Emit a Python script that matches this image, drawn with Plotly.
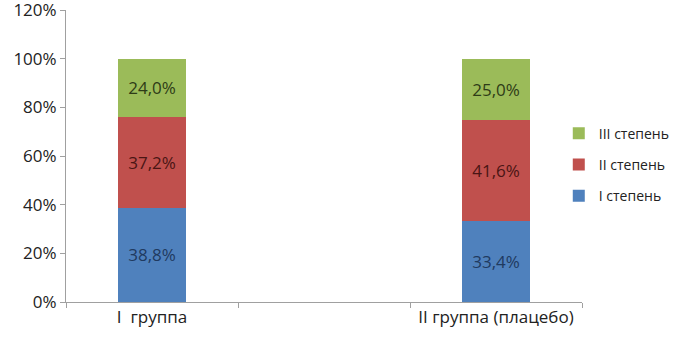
import plotly.graph_objects as go

categories = ["I  группа", "II группа (плацебо)"]
axis_categories = ["I  группа", " ", "II группа (плацебо)"]
series_names = ["I степень", "II степень", "III степень"]
deg1 = [38.8, 33.4]
deg2 = [37.2, 41.6]
deg3 = [24.0, 25.0]
y_ticks = [0, 20, 40, 60, 80, 100, 120]

colors = ["#4F81BD", "#C0504D", "#9BBB59"]
text_colors = ["#1F3A60", "#4A1514", "#2E3B17"]

fig = go.Figure()
for i, (name, vals, c, tc) in enumerate(zip(series_names, [deg1, deg2, deg3], colors, text_colors)):
    fig.add_trace(go.Bar(
        x=categories, y=vals, name=name, legendgroup=name, legendrank=10 - i,
        marker=dict(color=c, line=dict(width=0)),
        text=[f"{v:.1f}%".replace(".", ",") for v in vals],
        textposition="inside", insidetextanchor="middle",
        textfont=dict(color=tc, size=17, family="Open Sans"),
    ))

fig.update_layout(
    barmode="stack", bargap=0.6,
    width=678, height=337,
    margin=dict(l=66, r=96, t=10, b=35, autoexpand=False),
    paper_bgcolor="white", plot_bgcolor="white",
    font=dict(family="Open Sans", size=17, color="#222222"),
    legend=dict(traceorder="grouped", tracegroupgap=10,
                x=0.955, xanchor="left", y=0.47, yanchor="middle",
                bgcolor="rgba(0,0,0,0)",
                font=dict(size=14, color="#222222")),
    showlegend=True,
)
fig.update_xaxes(type="category", categoryorder="array", categoryarray=axis_categories,
                 range=[-0.5, 2.5],
                 showline=True, linecolor="#A0A0A0", linewidth=1,
                 ticks="outside", tickson="boundaries", ticklen=5, tickcolor="#A0A0A0",
                 showgrid=False, tickfont=dict(size=17))
fig.update_yaxes(range=[0, 120], tickvals=y_ticks, ticktext=[f"{t}%" for t in y_ticks],
                 ticklabeloverflow="allow",
                 showline=True, linecolor="#A0A0A0", linewidth=1,
                 ticks="outside", ticklen=5, tickcolor="#A0A0A0",
                 showgrid=False, zeroline=False, tickfont=dict(size=17))

fig.write_html("out.html")
